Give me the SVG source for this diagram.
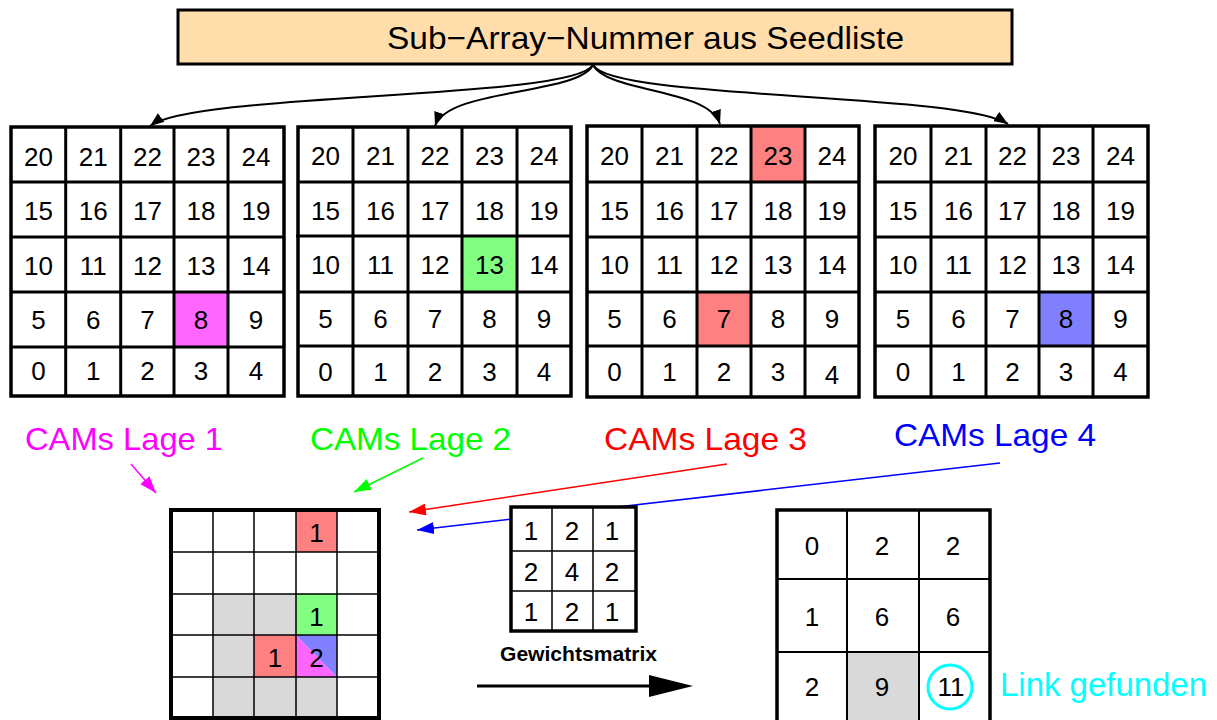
<svg xmlns="http://www.w3.org/2000/svg" width="1217" height="720" viewBox="0 0 1217 720">
<style>
text{font-family:"Liberation Sans",Arial,Helvetica,sans-serif}
.n{font-size:26px;text-anchor:middle;fill:#000}
.ln{stroke:#000;stroke-width:3;fill:none}
.thin{stroke:#000;stroke-width:1.5;fill:none}
.lbl{font-size:32px}
</style>
<defs>
<marker id="ak" markerUnits="userSpaceOnUse" markerWidth="14" markerHeight="11" refX="14" refY="5.5" orient="auto"><path d="M0,0 L14,5.5 L0,11 z" fill="#000"/></marker>
<marker id="am" markerUnits="userSpaceOnUse" markerWidth="17" markerHeight="12" refX="17" refY="6" orient="auto"><path d="M0,0 L17,6 L0,12 z" fill="#ff00ff"/></marker>
<marker id="ag" markerUnits="userSpaceOnUse" markerWidth="17" markerHeight="12" refX="17" refY="6" orient="auto"><path d="M0,0 L17,6 L0,12 z" fill="#00ff00"/></marker>
<marker id="ar" markerUnits="userSpaceOnUse" markerWidth="17" markerHeight="12" refX="17" refY="6" orient="auto"><path d="M0,0 L17,6 L0,12 z" fill="#ff0000"/></marker>
<marker id="ab" markerUnits="userSpaceOnUse" markerWidth="17" markerHeight="12" refX="17" refY="6" orient="auto"><path d="M0,0 L17,6 L0,12 z" fill="#0000ff"/></marker>
</defs>
<rect width="1217" height="720" fill="#fff"/>

<g id="connectors">
<path d="M593,65 C572,100 195,92 150,126" stroke="#000" stroke-width="2" fill="none" marker-end="url(#ak)"/>
<path d="M593,65 C578,95 448,88 435,126" stroke="#000" stroke-width="2" fill="none" marker-end="url(#ak)"/>
<path d="M593,65 C608,93 708,88 720,124" stroke="#000" stroke-width="2" fill="none" marker-end="url(#ak)"/>
<path d="M593,65 C612,100 958,92 1008,124" stroke="#000" stroke-width="2" fill="none" marker-end="url(#ak)"/>
<line x1="131" y1="464" x2="156" y2="493" stroke="#ff00ff" stroke-width="1.5" marker-end="url(#am)"/>
<line x1="423" y1="458" x2="354" y2="492" stroke="#00ff00" stroke-width="1.5" marker-end="url(#ag)"/>
<line x1="727" y1="464" x2="409" y2="512" stroke="#ff0000" stroke-width="1.5" marker-end="url(#ar)"/>
<line x1="1000" y1="463" x2="417" y2="530" stroke="#0000ff" stroke-width="1.5" marker-end="url(#ab)"/>
<line x1="477" y1="686" x2="652" y2="686" stroke="#000" stroke-width="3"/>
<polygon points="693,686 649,675 649,697" fill="#000"/>
</g>

<g id="seedliste">
<rect x="178" y="10" width="834" height="54" fill="#ffdeac" stroke="#000" stroke-width="3"/>
<text x="387" y="49" font-size="32" textLength="517" lengthAdjust="spacingAndGlyphs">Sub−Array−Nummer aus Seedliste</text>
</g>

<g id="lage1">
<rect x="11" y="127" width="273" height="269" fill="#fff"/>
<rect x="174" y="292" width="54" height="55" fill="#ff66ff"/>
<path class="ln" d="M65.7,127V396M120.7,127V396M174,127V396M228,127V396M11,182H284M11,237H284M11,292H284M11,347H284"/>
<rect x="11" y="127" width="273" height="269" fill="none" stroke="#000" stroke-width="3.5"/>
<g class="n">
<text x="38.4" y="166">20</text><text x="93.2" y="166">21</text><text x="147.4" y="166">22</text><text x="201" y="166">23</text><text x="256" y="166">24</text>
<text x="38.4" y="220">15</text><text x="93.2" y="220">16</text><text x="147.4" y="220">17</text><text x="201" y="220">18</text><text x="256" y="220">19</text>
<text x="38.4" y="275">10</text><text x="93.2" y="275">11</text><text x="147.4" y="275">12</text><text x="201" y="275">13</text><text x="256" y="275">14</text>
<text x="38.4" y="329">5</text><text x="93.2" y="329">6</text><text x="147.4" y="329">7</text><text x="201" y="329">8</text><text x="256" y="329">9</text>
<text x="38.4" y="380">0</text><text x="93.2" y="380">1</text><text x="147.4" y="380">2</text><text x="201" y="380">3</text><text x="256" y="380">4</text>
</g>
</g>

<g id="lage2">
<rect x="298" y="127" width="273" height="269" fill="#fff"/>
<rect x="462" y="236" width="55" height="56" fill="#80ff80"/>
<path class="ln" d="M353,127V396M408,127V396M462,127V396M517,127V396M298,182H571M296,236H571M298,292H571M298,346H571"/>
<rect x="298" y="127" width="273" height="269" fill="none" stroke="#000" stroke-width="3.5"/>
<g class="n">
<text x="325.5" y="165">20</text><text x="380.5" y="165">21</text><text x="435" y="165">22</text><text x="489.5" y="165">23</text><text x="544" y="165">24</text>
<text x="325.5" y="220">15</text><text x="380.5" y="220">16</text><text x="435" y="220">17</text><text x="489.5" y="220">18</text><text x="544" y="220">19</text>
<text x="325.5" y="274">10</text><text x="380.5" y="274">11</text><text x="435" y="274">12</text><text x="489.5" y="274">13</text><text x="544" y="274">14</text>
<text x="325.5" y="328">5</text><text x="380.5" y="328">6</text><text x="435" y="328">7</text><text x="489.5" y="328">8</text><text x="544" y="328">9</text>
<text x="325.5" y="381">0</text><text x="380.5" y="381">1</text><text x="435" y="381">2</text><text x="489.5" y="381">3</text><text x="544" y="381">4</text>
</g>
</g>

<g id="lage3">
<rect x="587" y="126" width="272" height="271" fill="#fff"/>
<rect x="751" y="126" width="54" height="56" fill="#ff8080"/>
<rect x="697" y="292" width="54" height="54" fill="#ff8080"/>
<path class="ln" d="M642,126V397M697,126V397M751,126V397M805,126V397M587,182H859M587,237H859M587,292H859M587,346H859"/>
<rect x="587" y="126" width="272" height="271" fill="none" stroke="#000" stroke-width="3.5"/>
<g class="n">
<text x="614.5" y="165">20</text><text x="669.5" y="165">21</text><text x="724" y="165">22</text><text x="778" y="165">23</text><text x="832" y="165">24</text>
<text x="614.5" y="220">15</text><text x="669.5" y="220">16</text><text x="724" y="220">17</text><text x="778" y="220">18</text><text x="832" y="220">19</text>
<text x="614.5" y="274">10</text><text x="669.5" y="274">11</text><text x="724" y="274">12</text><text x="778" y="274">13</text><text x="832" y="274">14</text>
<text x="614.5" y="328">5</text><text x="669.5" y="328">6</text><text x="724" y="328">7</text><text x="778" y="328">8</text><text x="832" y="328">9</text>
<text x="614.5" y="381">0</text><text x="669.5" y="381">1</text><text x="724" y="381">2</text><text x="778" y="381">3</text><text x="832" y="384">4</text>
</g>
</g>

<g id="lage4">
<rect x="875" y="126" width="273" height="271" fill="#fff"/>
<rect x="1039" y="292" width="54" height="54" fill="#8080ff"/>
<path class="ln" d="M931,126V397M986,126V397M1039,126V397M1093,126V397M875,182H1148M875,237H1148M875,292H1148M875,346H1148"/>
<rect x="875" y="126" width="273" height="271" fill="none" stroke="#000" stroke-width="3.5"/>
<g class="n">
<text x="903" y="165">20</text><text x="958.5" y="165">21</text><text x="1012.5" y="165">22</text><text x="1066" y="165">23</text><text x="1120.5" y="165">24</text>
<text x="903" y="220">15</text><text x="958.5" y="220">16</text><text x="1012.5" y="220">17</text><text x="1066" y="220">18</text><text x="1120.5" y="220">19</text>
<text x="903" y="274">10</text><text x="958.5" y="274">11</text><text x="1012.5" y="274">12</text><text x="1066" y="274">13</text><text x="1120.5" y="274">14</text>
<text x="903" y="328">5</text><text x="958.5" y="328">6</text><text x="1012.5" y="328">7</text><text x="1066" y="328">8</text><text x="1120.5" y="328">9</text>
<text x="903" y="381">0</text><text x="958.5" y="381">1</text><text x="1012.5" y="381">2</text><text x="1066" y="381">3</text><text x="1120.5" y="381">4</text>
</g>
</g>

<g id="labels">
<text class="lbl" x="25" y="450" fill="#ff00ff" textLength="198" lengthAdjust="spacingAndGlyphs">CAMs Lage 1</text>
<text class="lbl" x="310" y="450" fill="#00ff00" textLength="201" lengthAdjust="spacingAndGlyphs">CAMs Lage 2</text>
<text class="lbl" x="604" y="450" fill="#ff0000" textLength="203" lengthAdjust="spacingAndGlyphs">CAMs Lage 3</text>
<text class="lbl" x="894" y="446" fill="#0000ff" textLength="202" lengthAdjust="spacingAndGlyphs">CAMs Lage 4</text>
</g>

<g id="summe">
<rect x="171" y="510" width="208" height="208" fill="#fff"/>
<rect x="213" y="594" width="83" height="41" fill="#d9d9d9"/>
<rect x="213" y="635" width="41" height="42" fill="#d9d9d9"/>
<rect x="213" y="677" width="124" height="41" fill="#d9d9d9"/>
<rect x="296" y="510" width="41" height="42" fill="#ff8080"/>
<rect x="296" y="594" width="41" height="41" fill="#80ff80"/>
<rect x="254" y="635" width="42" height="42" fill="#ff8080"/>
<polygon points="296,635 296,677 337,677" fill="#ff66ff"/>
<polygon points="296,635 337,635 337,677" fill="#8080ff"/>
<path class="thin" d="M213,510V718M254,510V718M296,510V718M337,510V718M171,552H379M171,594H379M171,635H379M171,677H379"/>
<rect x="171" y="510" width="208" height="208" fill="none" stroke="#000" stroke-width="4"/>
<g class="n">
<text x="316.5" y="542">1</text>
<text x="316.5" y="626">1</text>
<text x="275" y="667">1</text>
<text x="316.5" y="667">2</text>
</g>
</g>

<g id="gewichtsmatrix">
<rect x="511" y="507" width="125" height="124" fill="#fff"/>
<path class="thin" d="M552,507V631M593,507V631M511,551H636M511,591H636"/>
<rect x="511" y="507" width="125" height="124" fill="none" stroke="#000" stroke-width="3.5"/>
<g class="n">
<text x="531" y="540">1</text><text x="572" y="540">2</text><text x="612" y="540">1</text>
<text x="531" y="581">2</text><text x="572" y="581">4</text><text x="612" y="581">2</text>
<text x="531" y="621">1</text><text x="572" y="621">2</text><text x="612" y="621">1</text>
</g>
<text x="578.5" y="661" font-size="20" font-weight="bold" text-anchor="middle" textLength="157" lengthAdjust="spacingAndGlyphs">Gewichtsmatrix</text>
</g>

<g id="ergebnis">
<rect x="777" y="510" width="213" height="220" fill="#fff"/>
<rect x="847" y="652" width="72" height="78" fill="#d9d9d9"/>
<path d="M847,510V730M919,510V730M777,579H990M777,652H990" stroke="#000" stroke-width="2" fill="none"/>
<rect x="777" y="510" width="213" height="220" fill="none" stroke="#000" stroke-width="3.5"/>
<g class="n">
<text x="812" y="555">0</text><text x="882" y="555">2</text><text x="953" y="555">2</text>
<text x="812" y="626">1</text><text x="882" y="626">6</text><text x="953" y="626">6</text>
<text x="812" y="696">2</text><text x="882" y="696">9</text><text x="951" y="696">11</text>
</g>
<circle cx="950" cy="687" r="22" fill="none" stroke="#00ffff" stroke-width="3"/>
<text x="1000" y="696" font-size="33" fill="#00ffff" textLength="207" lengthAdjust="spacingAndGlyphs">Link gefunden</text>
</g>
</svg>
